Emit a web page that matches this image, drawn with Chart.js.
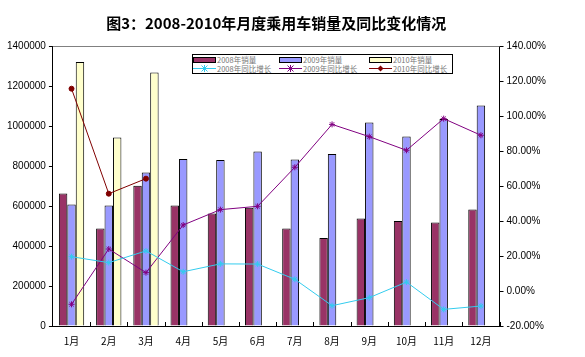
<!DOCTYPE html>
<html>
<head>
<meta charset="utf-8">
<script src="https://cdn.jsdelivr.net/npm/chart.js@4"></script>
<style>
  html, body { margin: 0; padding: 0; background: #fff; }
  #wrap { position: relative; width: 585px; height: 357px; }
  #legend {
    position: absolute; left: 192px; top: 54px; width: 261px; height: 20px;
    border: 1px solid #000; box-sizing: border-box; background: #fff;
    font-family: "Noto Sans CJK SC", sans-serif; font-size: 7.5px; color: #777;
  }
  .item { position: absolute; height: 9px; line-height: 9px; white-space: nowrap; letter-spacing: 0; }
  .sw { position: absolute; left: 0; top: 1.5px; width: 21px; height: 4px; border: 1px solid #000; box-sizing: content-box; }
  .ln { position: absolute; left: 0; top: 4px; width: 23px; height: 1px; }
  .mk { position: absolute; left: 8px; top: 1px; }
  .tx { position: absolute; left: 24px; top: 0; }
</style>
</head>
<body>
<div id="wrap">
  <canvas id="c" width="585" height="357"></canvas>
  <div id="legend"></div>
</div>
<script>
const months = ['1月','2月','3月','4月','5月','6月','7月','8月','9月','10月','11月','12月'];
const sales2008 = [663000, 488000, 701000, 603000, 563000, 591000, 488000, 440000, 538000, 525000, 518000, 583000];
const sales2009 = [608000, 603000, 768000, 835000, 830000, 873000, 833000, 860000, 1017000, 948000, 1035000, 1103000];
const sales2010 = [1320000, 943000, 1268000, null, null, null, null, null, null, null, null, null];
const growth2008 = [19.6, 16.2, 22.9, 11.0, 15.5, 15.4, 6.7, -8.4, -3.8, 5.1, -10.5, -8.6];
const growth2009 = [-7.6, 24.0, 10.5, 37.7, 46.5, 48.4, 70.7, 95.2, 88.2, 80.4, 98.5, 89.0];
const growth2010 = [115.6, 55.6, 64.2, null, null, null, null, null, null, null, null, null];
const seriesNames = ['2008年销量', '2009年销量', '2010年销量', '2008年同比增长', '2009年同比增长', '2010年同比增长'];
const titleText = '图3：2008-2010年月度乘用车销量及同比变化情况';

const barColors = ['#993366', '#9999FF', '#FFFFCC'];
const lineColors = ['#33CCEE', '#800080', '#800000'];

const plotDecor = {
  id: 'plotDecor',
  afterDraw(chart) {
    const ctx = chart.ctx, a = chart.chartArea, xs = chart.scales.x;
    ctx.save();
    ctx.strokeStyle = '#808080';
    ctx.lineWidth = 1;
    ctx.beginPath();
    ctx.moveTo(a.left, a.top + 0.5);
    ctx.lineTo(a.right, a.top + 0.5);
    ctx.stroke();
    ctx.strokeStyle = '#000';
    ctx.beginPath();
    const n = months.length;
    for (let i = 1; i <= n; i++) {
      const x = Math.round(xs.left + i * (xs.right - xs.left) / n) + 0.5;
      ctx.moveTo(x, a.bottom);
      ctx.lineTo(x, a.bottom - 4);
    }
    ctx.stroke();
    ctx.restore();
  }
};

const tickFont = { family: 'Liberation Sans, Arial, sans-serif', size: 10 };

new Chart(document.getElementById('c'), {
  data: {
    labels: months,
    datasets: [
      { type: 'line', label: seriesNames[3], data: growth2008, yAxisID: 'y2', borderColor: lineColors[0], backgroundColor: lineColors[0], borderWidth: 1, pointStyle: 'star', pointRadius: 3, pointBorderWidth: 1, order: 0 },
      { type: 'line', label: seriesNames[4], data: growth2009, yAxisID: 'y2', borderColor: lineColors[1], backgroundColor: lineColors[1], borderWidth: 1, pointStyle: 'star', pointRadius: 3, pointBorderWidth: 1, order: 0 },
      { type: 'line', label: seriesNames[5], data: growth2010, yAxisID: 'y2', borderColor: lineColors[2], backgroundColor: lineColors[2], borderWidth: 1, pointStyle: 'circle', pointRadius: 2.5, pointBorderWidth: 1, order: 0 },
      { type: 'bar', label: seriesNames[0], data: sales2008, yAxisID: 'y', backgroundColor: barColors[0], borderColor: '#000', borderWidth: 1, categoryPercentage: 0.68, barPercentage: 1, order: 1 },
      { type: 'bar', label: seriesNames[1], data: sales2009, yAxisID: 'y', backgroundColor: barColors[1], borderColor: '#000', borderWidth: 1, categoryPercentage: 0.68, barPercentage: 1, order: 1 },
      { type: 'bar', label: seriesNames[2], data: sales2010, yAxisID: 'y', backgroundColor: barColors[2], borderColor: '#000', borderWidth: 1, categoryPercentage: 0.68, barPercentage: 1, order: 1 }
    ]
  },
  options: {
    responsive: false,
    devicePixelRatio: 1,
    animation: false,
    layout: { padding: { left: 4, right: 36, top: 10, bottom: 1 } },
    plugins: {
      legend: { display: false },
      tooltip: { enabled: false },
      title: {
        display: true, text: titleText, fullSize: false, color: '#000',
        font: { family: '"Noto Sans CJK SC", sans-serif', size: 15, weight: 'bold' },
        padding: { top: 4, bottom: 14 }
      }
    },
    scales: {
      x: {
        offset: true,
        grid: { display: true, drawOnChartArea: false, drawTicks: false, offset: true },
        border: { color: '#000', width: 1 },
        ticks: { color: '#000', font: { family: '"Noto Sans CJK SC", sans-serif', size: 10 }, padding: 9, maxRotation: 0 }
      },
      y: {
        position: 'left', min: 0, max: 1400000,
        grid: { drawOnChartArea: false, tickLength: 4, color: '#000' },
        border: { color: '#000', width: 1 },
        ticks: { stepSize: 200000, color: '#000', font: tickFont, padding: 3, callback: v => String(v) }
      },
      y2: {
        position: 'right', min: -20, max: 140,
        grid: { drawOnChartArea: false, tickLength: 4, color: '#000' },
        border: { color: '#000', width: 1 },
        ticks: { stepSize: 20, color: '#000', font: tickFont, padding: 3, callback: v => v.toFixed(2) + '%' }
      }
    }
  },
  plugins: [plotDecor]
});

// HTML legend built from the series names/colours
const lg = document.getElementById('legend');
const colX = [0, 86, 176];
for (let i = 0; i < 3; i++) {
  const it = document.createElement('div');
  it.className = 'item';
  it.style.left = colX[i] + 'px'; it.style.top = '0px';
  it.innerHTML = '<div class="sw" style="background:' + barColors[i] + '"></div><div class="tx">' + seriesNames[i] + '</div>';
  lg.appendChild(it);
}
function markerSvg(i) {
  const c = lineColors[i];
  if (i < 2) {
    return '<svg class="mk" width="7" height="7" viewBox="0 0 7 7"><path d="M0.5 0.5L6.5 6.5M6.5 0.5L0.5 6.5M3.5 0V7" stroke="' + c + '" stroke-width="1"/></svg>';
  }
  return '<svg class="mk" width="7" height="7" viewBox="0 0 7 7"><path d="M3.5 0.5L6.5 3.5L3.5 6.5L0.5 3.5Z" fill="' + c + '"/></svg>';
}
for (let i = 0; i < 3; i++) {
  const it = document.createElement('div');
  it.className = 'item';
  it.style.left = colX[i] + 'px'; it.style.top = '9px';
  it.innerHTML = '<div class="ln" style="background:' + lineColors[i] + '"></div>' + markerSvg(i) +
    '<div class="tx">' + seriesNames[i + 3] + '</div>';
  lg.appendChild(it);
}
</script>
</body>
</html>
